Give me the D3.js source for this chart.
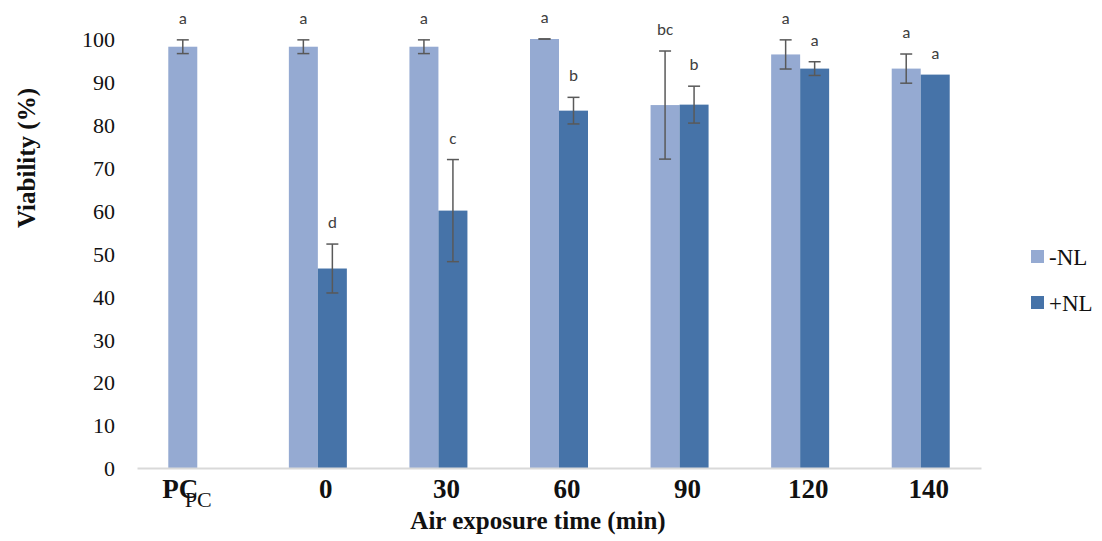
<!DOCTYPE html>
<html>
<head>
<meta charset="utf-8">
<script src="https://cdn.jsdelivr.net/npm/d3@7"></script>
<style>
  body { margin: 0; background: #fff; }
  .tick text { font-family: "Liberation Serif", "Times New Roman", serif; }
</style>
</head>
<body>
<div id="chart"></div>
<script>
// chart data
const categories = ["PC", "0", "30", "60", "90", "120", "140"];
const seriesNames = ["-NL", "+NL"];
const minusNL = [98.2, 98.2, 98.2, 100, 84.6, 96.4, 93.1];
const minusNLErr = [1.6, 1.6, 1.6, 0, 12.6, 3.4, 3.4];
const minusNLLetters = ["a", "a", "a", "a", "bc", "a", "a"];
const plusNL = [null, 46.5, 60, 83.3, 84.7, 93.1, 91.7];
const plusNLErr = [null, 5.7, 11.9, 3.1, 4.3, 1.6, 0];
const plusNLLetters = [null, "d", "c", "b", "b", "a", "a"];
const yTicks = [0, 10, 20, 30, 40, 50, 60, 70, 80, 90, 100];
const colors = ["#95aad2", "#4673a8"];

const width = 1102, height = 541;
const margin = { top: 39, right: 121, bottom: 73, left: 137 };

const svg = d3.select("#chart").append("svg")
  .attr("width", width)
  .attr("height", height)
  .attr("viewBox", [0, 0, width, height]);

const x = d3.scaleBand()
  .domain(categories)
  .range([margin.left, width - margin.right])
  .paddingInner(0)
  .paddingOuter(0);

const barW = 29;

const y = d3.scaleLinear()
  .domain([0, 100])
  .range([height - margin.bottom, margin.top]);

const rows = categories.map((c, i) => [
  { cat: c, s: 0, v: minusNL[i], e: minusNLErr[i], l: minusNLLetters[i] },
  { cat: c, s: 1, v: plusNL[i], e: plusNLErr[i], l: plusNLLetters[i] }
]).flat().filter(d => d.v != null);

const barX = d => x(d.cat) + x.bandwidth() / 2 + (d.s === 0 ? -barW : 0);

// bars
svg.append("g")
  .selectAll("rect")
  .data(rows)
  .join("rect")
  .attr("x", barX)
  .attr("y", d => y(d.v))
  .attr("width", barW)
  .attr("height", d => y(0) - y(d.v))
  .attr("fill", d => colors[d.s]);

// error bars
const eb = svg.append("g").attr("stroke", "#595959").attr("stroke-width", 1.5);
rows.filter(d => d.e > 0 || d.s === 0).forEach(d => {
  const cx = barX(d) + barW / 2;
  const top = y(d.v + d.e), bot = y(d.v - d.e);
  eb.append("line").attr("x1", cx).attr("x2", cx).attr("y1", top).attr("y2", bot);
  eb.append("line").attr("x1", cx - 6).attr("x2", cx + 6).attr("y1", top).attr("y2", top);
  eb.append("line").attr("x1", cx - 6).attr("x2", cx + 6).attr("y1", bot).attr("y2", bot);
});

// significance letters
svg.append("g")
  .selectAll("text")
  .data(rows)
  .join("text")
  .attr("x", d => barX(d) + barW / 2)
  .attr("y", d => y(d.v + d.e) - 16)
  .attr("text-anchor", "middle")
  .attr("font-family", "Carlito, Lato, 'DejaVu Sans', sans-serif")
  .attr("font-size", 17)
  .attr("fill", "#404040")
  .text(d => d.l);

// y axis (labels only)
const yAxis = svg.append("g")
  .attr("transform", `translate(${margin.left - 22},0)`)
  .call(d3.axisLeft(y).tickValues(yTicks).tickSize(0).tickPadding(0));
yAxis.select(".domain").remove();
yAxis.selectAll("text").attr("font-size", 22).attr("fill", "#111").attr("dy", "0.35em");

// x axis
const xAxis = svg.append("g")
  .attr("transform", `translate(0,${y(0)})`)
  .call(d3.axisBottom(x).tickSize(0).tickPadding(11));
xAxis.select(".domain").attr("stroke", "#d9d9d9").attr("stroke-width", 2);
xAxis.selectAll("text")
  .attr("font-size", 27)
  .attr("font-weight", "bold")
  .attr("fill", "#111")
  .attr("dx", d => d === "PC" ? -17 : 8);

// duplicate small PC label (as in source)
svg.append("text")
  .attr("x", x("PC") + x.bandwidth() / 2 + 1)
  .attr("y", y(0) + 39)
  .attr("text-anchor", "middle")
  .attr("font-family", "Liberation Serif, serif")
  .attr("font-size", 22)
  .attr("fill", "#111")
  .text("PC");

// axis titles
svg.append("text")
  .attr("x", 538)
  .attr("y", 529)
  .attr("text-anchor", "middle")
  .attr("font-family", "Liberation Serif, serif")
  .attr("font-weight", "bold")
  .attr("font-size", 25)
  .attr("fill", "#111")
  .text("Air exposure time (min)");

svg.append("text")
  .attr("transform", "translate(35,158) rotate(-90)")
  .attr("text-anchor", "middle")
  .attr("font-family", "Liberation Serif, serif")
  .attr("font-weight", "bold")
  .attr("font-size", 25)
  .attr("fill", "#111")
  .text("Viability (%)");

// legend
const legend = svg.append("g")
  .selectAll("g")
  .data(seriesNames)
  .join("g")
  .attr("transform", (d, i) => `translate(1031,${250 + i * 46})`);
legend.append("rect").attr("width", 13).attr("height", 13).attr("fill", (d, i) => colors[i]);
legend.append("text")
  .attr("x", 18)
  .attr("y", 7)
  .attr("dy", "0.35em")
  .attr("font-family", "Liberation Serif, serif")
  .attr("font-size", 23)
  .attr("fill", "#111")
  .text(d => d);
</script>
</body>
</html>
